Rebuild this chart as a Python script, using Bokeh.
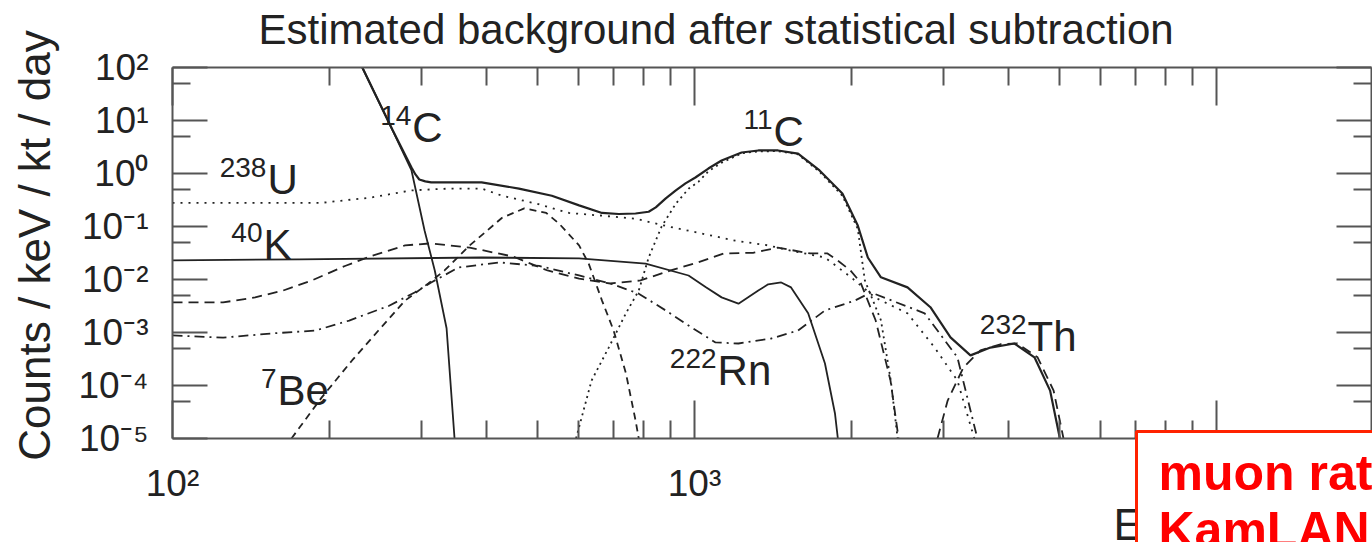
import math
from bokeh.plotting import figure
from bokeh.models import (FixedTicker, LogAxis, CustomJSTickFormatter, Label,
                          ColumnDataSource, Range1d)
from bokeh.core.properties import value
from bokeh.embed import file_html
from bokeh.resources import INLINE

NAN = float("nan")

# ---------------- texts ----------------
TITLE = "Estimated background after statistical subtraction"
Y_LABEL = "Counts / keV / kt / day"
X_LABEL = "Energy (keV)"
NOTE_LINE1 = "muon rate"
NOTE_LINE2 = "KamLAND"

# ---------------- ticks ----------------
x_major = [100, 1000, 10000]
x_minor = [200, 300, 400, 500, 600, 700, 800, 900,
           2000, 3000, 4000, 5000, 6000, 7000, 8000, 9000, 20000]
y_major = [1e-5, 1e-4, 1e-3, 1e-2, 1e-1, 1, 10, 100]
y_minor = [5e-5, 5e-4, 5e-3, 5e-2, 0.5, 5, 50]
X_AXIS_MIN, X_AXIS_MAX = 100, 19800
Y_AXIS_MIN, Y_AXIS_MAX = 1e-5, 100

# ---------------- series (energy keV, counts/keV/kt/day) ----------------
total_E = [231, 264, 287, 292, 297, 305, 313, 391, 461, 533, 601, 665, 716, 771,
           817, 843, 881, 921, 961, 1004, 1063, 1127, 1231, 1325, 1446, 1579, 1736,
           1920, 2055, 2148, 2276, 2559, 2831, 3093, 3378, 3688, 4101, 4480, 4800,
           5012]
total_C = [100, 6.6, 1.3, 0.96, 0.77, 0.71, 0.68, 0.68, 0.52, 0.38, 0.25, 0.18,
           0.172, 0.176, 0.19, 0.23, 0.34, 0.48, 0.65, 0.84, 1.24, 1.76, 2.49, 2.72,
           2.72, 2.38, 1.14, 0.42, 0.104, 0.026, 0.011, 0.0071, 0.003, 8.1e-4, 3.7e-4,
           5.2e-4, 6.2e-4, 3.4e-4, 8.0e-5, 1e-5]

c14_E = [231, 264, 287, 304, 318, 335, 347]
c14_C = [100, 6.5, 1.14, 0.084, 0.0148, 0.0012, 1e-5]

u238_E = [100, 193, 239, 287, 339, 391, 428, 498, 575, 665, 771, 891, 1031, 1197,
          1384, 1531, 1778, 1995, 2215, 2559, 2884, 3189, 3436]
u238_C = [0.28, 0.28, 0.35, 0.48, 0.52, 0.52, 0.38, 0.27, 0.18, 0.16, 0.14, 0.1,
          0.074, 0.054, 0.044, 0.035, 0.026, 0.011, 0.0046, 0.0023, 5.2e-4, 1.24e-4,
          1e-5]

k40_E = [100, 175, 391, 601, 806, 974, 1050, 1127, 1214, 1325, 1384, 1466, 1531,
         1651, 1778, 1858, 1882]
k40_C = [0.023, 0.024, 0.026, 0.025, 0.020, 0.0119, 0.0072, 0.0046, 0.0035, 0.0062,
         0.0081, 0.0088, 0.0071, 0.0023, 2.6e-4, 3e-5, 1e-5]

be7_E = [169, 193, 221, 248, 279, 309, 332, 371, 428, 472, 520, 550, 601, 627,
         665, 700, 739, 771, 782]
be7_C = [1e-5, 5.9e-5, 3e-4, 0.00109, 0.004, 0.0084, 0.0148, 0.044, 0.146,
         0.22, 0.18, 0.114, 0.044, 0.02, 0.004, 0.00109, 1.7e-4, 2.2e-5, 1e-5]

c11_E = [593, 635, 685, 739, 782, 817, 865, 921, 975, 1018, 1063, 1127, 1231,
         1325, 1446, 1579, 1736, 1920, 2055, 2120, 2276, 2377, 2450]
c11_C = [1e-5, 1.24e-4, 5.2e-4, 0.0023, 0.0062, 0.026, 0.1, 0.27, 0.52, 0.7,
         1.1, 1.6, 2.4, 2.62, 2.64, 2.3, 1.08, 0.38, 0.09, 0.0096, 0.0017, 1.24e-4,
         1e-5]

rn222_E = [100, 125, 155, 188, 218, 260, 291, 313, 353, 423, 504, 601, 690, 782, 881,
           987, 1097, 1214, 1403, 1579, 1778, 2028, 2178, 2760, 3189, 3483]
rn222_C = [8.8e-4, 8.0e-4, 9.6e-4, 0.00109, 0.00168, 0.0032, 0.0057, 0.0088, 0.0168,
           0.021, 0.018, 0.0119, 0.0084, 0.0054, 0.0026, 0.00124, 6.5e-4, 6.2e-4,
           7.7e-4, 0.00109, 0.0026, 0.004, 0.0057, 0.0023, 3.4e-4, 1e-5]

th232_E = [100, 125, 144, 163, 185, 214, 241, 279, 312, 371, 450, 523, 601, 690, 788,
           900, 1014, 1137, 1298, 1443, 1667, 1798, 1879, 1990, 2080, 2223, 2374, 2460,
           NAN, 2921, 3055, 3276, 3530, 3855, 4156, 4542, 4875, 5092]
th232_C = [0.0037, 0.0037, 0.0046, 0.0062, 0.0096, 0.018, 0.028, 0.044, 0.048, 0.040,
           0.027, 0.0148, 0.0104, 0.0084, 0.0096, 0.0148, 0.021, 0.031, 0.032, 0.040,
           0.031, 0.031, 0.023, 0.0148, 0.0088, 0.0017, 1.24e-4, 1e-5,
           NAN, 1e-5, 5.2e-5, 2.2e-4, 4.6e-4, 6.0e-4, 6.2e-4, 3.4e-4, 8.0e-5, 1e-5]

# isotope labels: mass number, element
label_mass = ["14", "11", "238", "40", "7", "222", "232"]
label_elem = ["C", "C", "U", "K", "Be", "Rn", "Th"]

# ---------------- layout / style (not data) ----------------
# anchor = left edge / cap-height centre of the element symbol
label_anchor_E = [288, 1417, 152, 149.4, 158.9, 1107, 4345]
label_anchor_C = [7.38, 6.20, 0.770, 0.0457, 8.05e-5, 1.92e-4, 8.41e-4]

W, H = 1372, 542
PX_PER_DECADE_X, PX_PER_DECADE_Y = 522.0, 53.0
AXIS_LEFT_PX, AXIS_TOP_PX = 172, 67        # where 1e2 keV / 1e2 counts sit
x_lo = 10 ** (2 - AXIS_LEFT_PX / PX_PER_DECADE_X)
x_hi = 10 ** (2 + (W - AXIS_LEFT_PX) / PX_PER_DECADE_X)
y_hi = 10 ** (2 + AXIS_TOP_PX / PX_PER_DECADE_Y)
y_lo = 10 ** (2 - (H - AXIS_TOP_PX) / PX_PER_DECADE_Y)

FONT = "Liberation Sans"
INK = "#222222"
FRAME = "#555555"

# The data frame fills the whole canvas; the four axes are pinned at the
# 1e2..2e4 keV / 1e-5..1e2 box so that titles, the x label and the red note
# below the axis can all be drawn.
p = figure(width=W, height=H, x_axis_type="log", y_axis_type="log",
           x_range=Range1d(x_lo, x_hi), y_range=Range1d(y_lo, y_hi),
           output_backend="svg", toolbar_location=None,
           min_border_left=0, min_border_right=0, min_border_top=0,
           min_border_bottom=0)
p.background_fill_color = "white"
p.border_fill_color = "white"
p.outline_line_color = None
p.xgrid.visible = False
p.ygrid.visible = False

sup_code = r"""
const s = {"-": "\u207b", "0": "\u2070", "1": "\u00b9", "2": "\u00b2", "3": "\u00b3",
           "4": "\u2074", "5": "\u2075", "6": "\u2076", "7": "\u2077", "8": "\u2078",
           "9": "\u2079"};
const e = Math.round(Math.log10(tick));
return "10" + String(e).split("").map((c) => s[c]).join("");
"""
pow_fmt = CustomJSTickFormatter(code=sup_code)
empty_fmt = CustomJSTickFormatter(code="return '';")

xt = FixedTicker(ticks=x_major, minor_ticks=x_minor)
yt = FixedTicker(ticks=y_major, minor_ticks=y_minor)


def style_axis(ax, major_in, minor_in, labels=True):
    ax.major_tick_in = major_in
    ax.major_tick_out = 0
    ax.minor_tick_in = minor_in
    ax.minor_tick_out = 0
    ax.major_tick_line_color = FRAME
    ax.minor_tick_line_color = FRAME
    ax.major_tick_line_width = 2
    ax.minor_tick_line_width = 2
    ax.axis_line_color = FRAME
    ax.axis_line_width = 2
    ax.major_label_text_font = FONT
    ax.major_label_text_font_size = "37px" if labels else "0px"
    ax.major_label_text_color = INK


xa = p.xaxis[0]
xa.ticker = xt
xa.formatter = pow_fmt
style_axis(xa, 38, 18)
xa.major_label_standoff = 24
xa.fixed_location = Y_AXIS_MIN
xa.bounds = (X_AXIS_MIN, X_AXIS_MAX)

ya = p.yaxis[0]
ya.ticker = yt
ya.formatter = pow_fmt
style_axis(ya, 35, 18)
ya.major_label_standoff = 24
ya.fixed_location = X_AXIS_MIN
ya.bounds = (Y_AXIS_MIN, Y_AXIS_MAX)

top = LogAxis(ticker=xt, formatter=empty_fmt, fixed_location=Y_AXIS_MAX,
              bounds=(X_AXIS_MIN, X_AXIS_MAX))
style_axis(top, 38, 18, labels=False)
top.major_label_standoff = 0
p.add_layout(top, "above")

right = LogAxis(ticker=yt, formatter=empty_fmt, fixed_location=X_AXIS_MAX,
                bounds=(Y_AXIS_MIN, Y_AXIS_MAX))
style_axis(right, 35, 18, labels=False)
right.major_label_standoff = 0
p.add_layout(right, "right")

# ---------------- curves ----------------
p.line(total_E, total_C, line_color=INK, line_width=2.2)
p.line(c14_E, c14_C, line_color=INK, line_width=1.8)
p.line(k40_E, k40_C, line_color=INK, line_width=1.8)
p.line(u238_E, u238_C, line_color=INK, line_width=1.8, line_dash="2 6")
p.line(c11_E, c11_C, line_color=INK, line_width=1.8, line_dash="2 4")
p.line(be7_E, be7_C, line_color=INK, line_width=1.8, line_dash="7 5")
p.line(th232_E, th232_C, line_color=INK, line_width=1.8, line_dash="10 6")
p.line(rn222_E, rn222_C, line_color=INK, line_width=1.8, line_dash="10 5 2 5")

# ---------------- isotope labels ----------------
lab = ColumnDataSource(dict(x=label_anchor_E, y=label_anchor_C,
                            mass=label_mass, elem=label_elem))
p.text(x="x", y="y", text="elem", source=lab, text_font=value(FONT),
       text_font_size=value("42px"), text_color=INK, text_align="left",
       text_baseline="middle")
p.text(x="x", y="y", text="mass", source=lab, text_font=value(FONT),
       text_font_size=value("28px"), text_color=INK, text_align="right",
       text_baseline="middle", x_offset=-1, y_offset=-12)


def at_x(px):
    return 10 ** (2 + (px - AXIS_LEFT_PX) / PX_PER_DECADE_X)


def at_y(px):
    return 10 ** (2 - (px - AXIS_TOP_PX) / PX_PER_DECADE_Y)


# ---------------- title, axis titles, note box ----------------
p.add_layout(Label(x=at_x(258), y=at_y(28.5), text=TITLE, text_font=FONT,
                   text_font_size="42px", text_color=INK, text_align="left",
                   text_baseline="middle"))

p.add_layout(Label(x=at_x(34), y=at_y(245), text=Y_LABEL, angle=math.pi / 2,
                   text_font=FONT, text_font_size="44px", text_color=INK,
                   text_align="center", text_baseline="middle"))

p.add_layout(Label(x=at_x(1113), y=at_y(524), text=X_LABEL, text_font=FONT,
                   text_font_size="44px", text_color=INK, text_align="left",
                   text_baseline="middle"))

note1 = Label(x=at_x(1136), y=at_y(431), text=NOTE_LINE1, text_font=FONT,
              text_font_size="50px", text_font_style="bold",
              text_color="#ff0000", text_align="left", text_baseline="top",
              background_fill_color="white", border_line_color="#ff2200",
              border_line_width=3)
try:
    note1.padding = dict(left=22, right=80, top=13, bottom=140)
except Exception:
    pass
p.add_layout(note1)

p.add_layout(Label(x=at_x(1158), y=at_y(501), text=NOTE_LINE2, text_font=FONT,
                   text_font_size="50px", text_font_style="bold",
                   text_color="#ff0000", text_align="left", text_baseline="top"))

with open("out.html", "w", encoding="utf-8") as f:
    f.write(file_html(p, INLINE))
